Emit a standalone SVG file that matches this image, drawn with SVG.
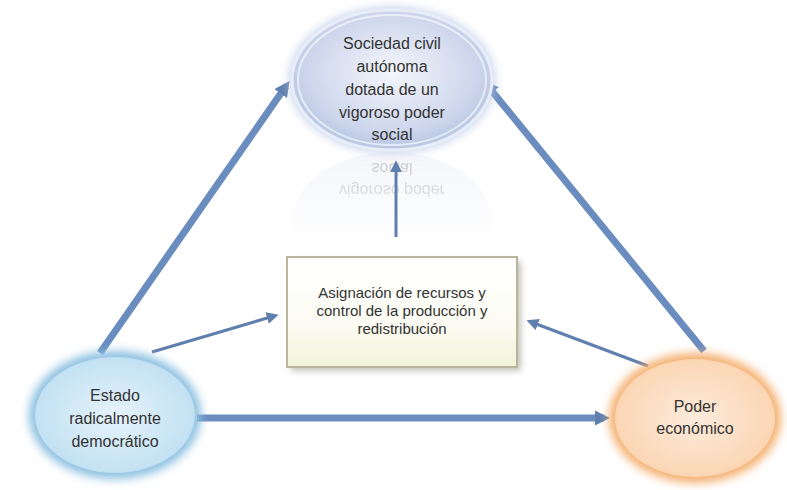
<svg xmlns="http://www.w3.org/2000/svg" width="787" height="490" viewBox="0 0 787 490">
<style>
.t{font-family:"Liberation Sans","Open Sans",Arial,sans-serif;fill:#333;text-anchor:middle}
.big{font-size:16px}
.mid{font-size:15px}
.thick{stroke:#6a8cbf;stroke-width:7;fill:none}
.thin{stroke:#5f7fae;stroke-width:3;fill:none}
</style>
<defs>
<marker id="ah" viewBox="0 0 10 10" refX="6" refY="5" markerWidth="2.2" markerHeight="2.2" orient="auto" markerUnits="strokeWidth"><path d="M0,0 L10,5 L0,10 z" fill="#5f7fae"/></marker>
<marker id="ahs" viewBox="0 0 10 10" refX="6" refY="5" markerWidth="4" markerHeight="4" orient="auto" markerUnits="strokeWidth"><path d="M0,0 L10,5 L0,10 z" fill="#5f7fae"/></marker>
<radialGradient id="gTop" cx="0.5" cy="0.45" r="0.6"><stop offset="0" stop-color="#f4f6fb"/><stop offset="0.7" stop-color="#cdd6ec"/><stop offset="1" stop-color="#aebfe0"/></radialGradient>
<radialGradient id="gLeft" cx="0.5" cy="0.5" r="0.6"><stop offset="0" stop-color="#e6f3fa"/><stop offset="0.8" stop-color="#c4e2f3"/><stop offset="1" stop-color="#a9d3ec"/></radialGradient>
<radialGradient id="gRight" cx="0.5" cy="0.5" r="0.6"><stop offset="0" stop-color="#fdebdb"/><stop offset="0.8" stop-color="#fbd7b6"/><stop offset="1" stop-color="#f7c493"/></radialGradient>
<linearGradient id="gBox" x1="0" y1="0" x2="0" y2="1"><stop offset="0" stop-color="#ffffff"/><stop offset="0.6" stop-color="#fcfcf4"/><stop offset="1" stop-color="#f3f2d8"/></linearGradient>
<linearGradient id="gRefl" x1="0" y1="0" x2="0" y2="1"><stop offset="0" stop-color="#ffffff" stop-opacity="1"/><stop offset="1" stop-color="#ffffff" stop-opacity="0"/></linearGradient>
<mask id="mRefl"><rect x="280" y="150" width="230" height="95" fill="url(#gRefl)"/></mask>
<filter id="blur" x="-30%" y="-30%" width="160%" height="160%"><feGaussianBlur stdDeviation="5"/></filter>
<filter id="sh" x="-10%" y="-10%" width="130%" height="130%"><feGaussianBlur stdDeviation="3"/></filter>
</defs>
<rect width="787" height="490" fill="#ffffff"/>

<g id="reflection" mask="url(#mRefl)" opacity="0.3">
<ellipse cx="392" cy="222" rx="100" ry="70" fill="#dde1ee"/>
<g transform="translate(0,302) scale(1,-1)">
<text class="t big" x="392" y="117">vigoroso poder</text>
<text class="t big" x="392" y="139">social</text>
</g>
</g>

<g id="connectors">
<line class="thick" x1="100" y1="353" x2="286" y2="86" marker-end="url(#ah)"/>
<line class="thick" x1="704" y1="351" x2="487" y2="85" marker-end="url(#ah)"/>
<line class="thick" x1="197" y1="418" x2="604" y2="418" marker-end="url(#ah)"/>
<line class="thin" x1="152" y1="352" x2="274" y2="316" marker-end="url(#ahs)"/>
<line class="thin" x1="648" y1="366" x2="531" y2="322" marker-end="url(#ahs)"/>
<line class="thin" x1="396" y1="237" x2="396" y2="165" marker-end="url(#ahs)"/>
</g>

<g id="node-sociedad">
<ellipse cx="392" cy="80" rx="103" ry="73" fill="#b9c8e6" filter="url(#blur)" opacity="0.8"/>
<ellipse cx="392" cy="80" rx="100" ry="70" fill="url(#gTop)" stroke="#e8eef8" stroke-width="3"/>
<ellipse cx="392" cy="80" rx="94" ry="65" fill="none" stroke="#ffffff" stroke-width="2" opacity="0.6"/>
<text class="t big" x="392" y="49">Sociedad civil</text>
<text class="t big" x="392" y="72">autónoma</text>
<text class="t big" x="392" y="95">dotada de un</text>
<text class="t big" x="392" y="118">vigoroso poder</text>
<text class="t big" x="392" y="140">social</text>
</g>

<g id="node-asignacion">
<rect x="291" y="261" width="230" height="110" fill="#9a9a8a" filter="url(#sh)" opacity="0.6"/>
<rect x="287" y="257" width="230" height="110" fill="url(#gBox)" stroke="#b8b59a" stroke-width="2"/>
<text class="t mid" x="402" y="298">Asignación de recursos y</text>
<text class="t mid" x="402" y="316">control de la producción y</text>
<text class="t mid" x="402" y="334">redistribución</text>
</g>

<g id="node-estado">
<ellipse cx="115" cy="415" rx="86" ry="64" fill="#8cc0e0" filter="url(#blur)"/>
<ellipse cx="115" cy="415" rx="80" ry="58" fill="url(#gLeft)"/>
<text class="t big" x="115" y="401">Estado</text>
<text class="t big" x="115" y="424">radicalmente</text>
<text class="t big" x="115" y="447">democrático</text>
</g>

<g id="node-poder">
<ellipse cx="695" cy="418" rx="86" ry="65" fill="#f4b070" filter="url(#blur)"/>
<ellipse cx="695" cy="418" rx="80" ry="59" fill="url(#gRight)"/>
<text class="t big" x="695" y="412">Poder</text>
<text class="t big" x="695" y="434">económico</text>
</g>
</svg>
